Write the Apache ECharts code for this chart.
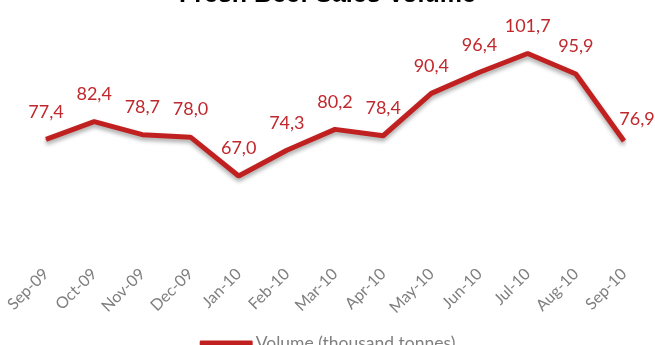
<!DOCTYPE html>
<html>
<head>
<meta charset="utf-8">
<script src="https://cdn.jsdelivr.net/npm/echarts@6/dist/echarts.min.js"></script>
<style>
  html, body { margin: 0; padding: 0; background: #fff; }
  #main { width: 655px; height: 345px; }
</style>
</head>
<body>
<div id="main"></div>
<script>
// monthly fresh beef sales volume, thousand tonnes
const months = ['Sep-09', 'Oct-09', 'Nov-09', 'Dec-09', 'Jan-10', 'Feb-10', 'Mar-10',
  'Apr-10', 'May-10', 'Jun-10', 'Jul-10', 'Aug-10', 'Sep-10'];
const volume = [77.4, 82.4, 78.7, 78.0, 67.0, 74.3, 80.2, 78.4, 90.4, 96.4, 101.7, 95.9, 76.9];
const seriesName = 'Volume (thousand tonnes)';

const red = '#c0201f';
const font = "Lato, 'Liberation Sans', sans-serif";

const chart = echarts.init(document.getElementById('main'));

// last point has its label to the right, the rest sit above
const points = volume.map((v, i) => {
  if (i === volume.length - 1) {
    return { value: v, label: { offset: [13, 6] } };
  }
  return v;
});

chart.setOption({
  backgroundColor: '#fff',
  animation: false,
  title: {
    text: 'Fresh Beef Sales Volume',
    left: 'center',
    top: -22,
    textStyle: { fontFamily: "'Liberation Sans', sans-serif", fontSize: 25, fontWeight: 'bold', color: '#000' }
  },
  grid: { left: 46, right: 31, top: 24.2, bottom: 73.7 },
  legend: {
    data: [seriesName],
    top: 329,
    left: 'center',
    icon: 'roundRect',
    itemWidth: 53,
    itemHeight: 5,
    itemGap: 4,
    textStyle: { fontFamily: font, fontSize: 17.5, color: '#7f7f7f', padding: [0, 0, 0, -2] }
  },
  xAxis: {
    type: 'category',
    data: months,
    boundaryGap: false,
    axisLine: { show: false },
    axisTick: { show: false },
    axisLabel: {
      rotate: 45,
      margin: 0,
      interval: 0,
      fontFamily: font,
      fontSize: 16,
      color: '#7f7f7f'
    }
  },
  yAxis: {
    type: 'value',
    min: 40,
    max: 110,
    show: false,
    splitLine: { show: false }
  },
  series: [{
    name: seriesName,
    type: 'line',
    data: points,
    symbol: 'circle',
    symbolSize: 1,
    itemStyle: { color: red },
    lineStyle: {
      color: red,
      width: 5,
      shadowColor: 'rgba(0,0,0,0.35)',
      shadowBlur: 4,
      shadowOffsetY: 3
    },
    label: {
      show: true,
      position: 'top',
      distance: 18,
      fontFamily: font,
      fontSize: 18,
      color: '#c0282d',
      formatter: p => p.value.toFixed(1).replace('.', ',')
    }
  }]
});
</script>
</body>
</html>
